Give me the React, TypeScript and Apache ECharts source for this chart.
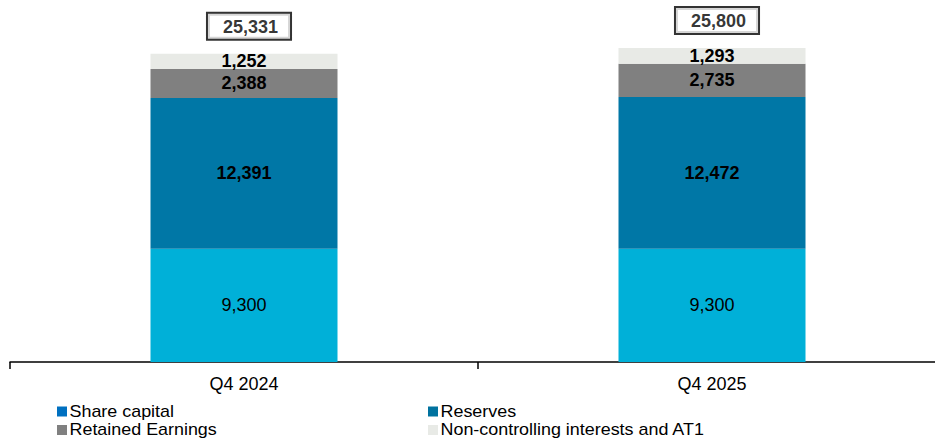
import React, { useEffect, useRef } from "react";
import * as echarts from "echarts";

const categories = ["Q4 2024", "Q4 2025"];
const shareCapital = [9300, 9300];
const reserves = [12391, 12472];
const retainedEarnings = [2388, 2735];
const nonControlling = [1252, 1293];
const totals = [25331, 25800];

const seriesNames = [
  "Share capital",
  "Reserves",
  "Retained Earnings",
  "Non-controlling interests and AT1",
];
const barColors = ["#00B0D8", "#0077A6", "#808080", "#E8EAE6"];
const legendColors = ["#0070C0", "#00729F", "#808080", "#E8EAE6"];

const FONT = "Liberation Sans, Arial, sans-serif";

const fmt = (v: number) => v.toLocaleString("en-US");

export default function App() {
  const ref = useRef<HTMLDivElement>(null);

  useEffect(() => {
    if (!ref.current) return;
    const chart = echarts.init(ref.current, undefined, { renderer: "svg" });

    const segLabel = (bold: boolean) => ({
      show: true,
      position: "inside" as const,
      color: "#000",
      fontFamily: FONT,
      fontSize: 18,
      fontWeight: bold ? ("bold" as const) : ("normal" as const),
      formatter: (p: any) => fmt(p.value),
    });

    const barBase = {
      type: "bar" as const,
      stack: "equity",
      barWidth: 187,
      silent: true,
    };

    // Legend laid out in two columns of two rows: [x, y] per series
    const legendPos = [
      [57, 411.5],
      [428, 411.5],
      [57, 430],
      [428, 430],
    ];
    const legendItems = seriesNames.map((name, i) => ({
      type: "group",
      x: legendPos[i][0],
      y: legendPos[i][1],
      children: [
        {
          type: "rect",
          shape: { x: 0, y: -5, width: 10, height: 10 },
          style: { fill: legendColors[i] },
        },
        {
          type: "text",
          x: 12.5,
          y: 0,
          scaleX: 1.12,
          style: {
            text: name,
            fill: "#000",
            fontFamily: FONT,
            fontSize: 16,
            verticalAlign: "middle",
            align: "left",
          },
        },
      ],
    }));

    chart.setOption({
      animation: false,
      grid: { left: 10, width: 936, top: 0, height: 362, containLabel: false },
      xAxis: {
        type: "category",
        data: categories,
        boundaryGap: true,
        axisLine: { lineStyle: { color: "#000", width: 1.5 } },
        axisTick: { show: true, length: 7, lineStyle: { color: "#000", width: 1.5 } },
        axisLabel: {
          color: "#000",
          fontFamily: FONT,
          fontSize: 18,
          margin: 13,
        },
      },
      yAxis: {
        type: "value",
        min: 0,
        max: 29745,
        show: false,
        splitLine: { show: false },
      },
      graphic: legendItems,
      series: [
        {
          ...barBase,
          name: seriesNames[0],
          data: shareCapital,
          itemStyle: { color: barColors[0] },
          label: segLabel(false),
        },
        {
          ...barBase,
          name: seriesNames[1],
          data: reserves,
          itemStyle: { color: barColors[1] },
          label: segLabel(true),
        },
        {
          ...barBase,
          name: seriesNames[2],
          data: retainedEarnings,
          itemStyle: { color: barColors[2] },
          label: segLabel(true),
        },
        {
          ...barBase,
          name: seriesNames[3],
          data: nonControlling,
          itemStyle: { color: barColors[3] },
          label: segLabel(true),
        },
        {
          type: "scatter",
          name: "Total",
          data: totals,
          symbolSize: 0,
          silent: true,
          label: {
            show: true,
            position: "top",
            distance: 15,
            offset: [5, 0],
            color: "#000",
            fontFamily: FONT,
            fontSize: 18,
            fontWeight: "bold",
            backgroundColor: "#fff",
            borderColor: "#000",
            borderWidth: 2,
            padding: [4, 12, 3, 15],
            formatter: (p: any) => fmt(p.value),
          },
        },
      ],
    });

    return () => chart.dispose();
  }, []);

  return (
    <div
      style={{
        position: "fixed",
        left: 0,
        top: 0,
        width: 935,
        height: 442,
        overflow: "hidden",
        background: "#fff",
      }}
    >
      <div ref={ref} style={{ width: 960, height: 442 }} />
    </div>
  );
}
